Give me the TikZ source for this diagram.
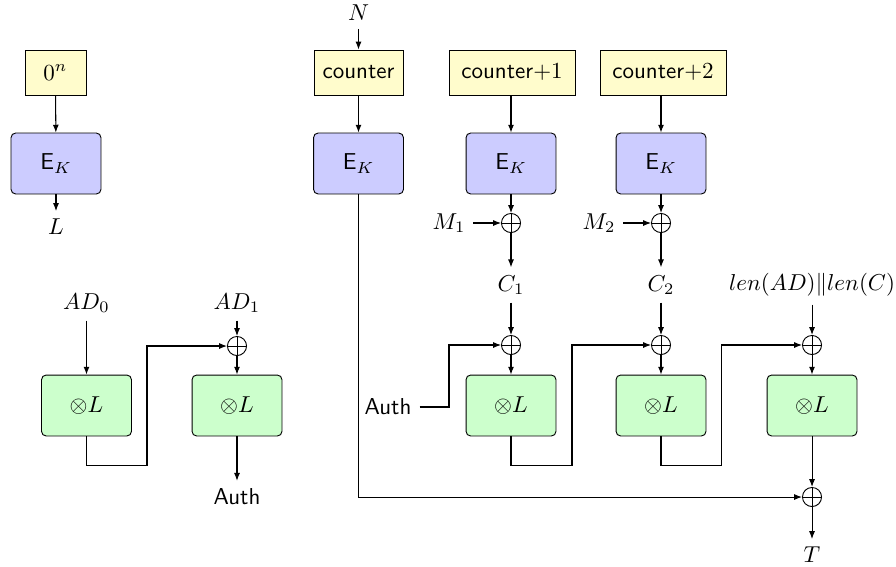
\documentclass[tikz,border=0pt]{standalone}
\usetikzlibrary{arrows.meta}
\begin{document}
\begin{tikzpicture}[x=0.4348pt,y=-0.4348pt]
\tikzset{
  conn/.style={draw=black, line width=0.45pt},
  arr/.style={conn, -{Latex[length=3.4pt,width=2.6pt]}},
  ctrbox/.style={draw, fill=yellow!20, minimum height=19.6pt, inner sep=2pt},
  encbox/.style={draw, fill=blue!20, rounded corners=2pt, minimum width=39.1pt, minimum height=26.5pt},
  mulbox/.style={draw, fill=green!20, rounded corners=2pt, minimum width=39.1pt, minimum height=26.5pt},
  xorop/.style={circle, draw, minimum size=8.3pt, inner sep=0pt,
    path picture={\draw (path picture bounding box.north) -- (path picture bounding box.south)
                        (path picture bounding box.west) -- (path picture bounding box.east);}},
}
\useasboundingbox (0,0) rectangle (896,566);

% key derivation: L = E_K(0^n)
\node[ctrbox, minimum width=26.5pt] (zero) at (55.5,72.5) {$0^n$};
\node[encbox] (ek0) at (56,163.5) {\textsf{E}$_K$};
\node (L) at (56,227) {$L$};
\draw[arr] (zero) -- (ek0);
\draw[arr] (ek0) -- (L);

% associated data chain
\node (ad0) at (86.5,303) {$AD_0$};
\node (ad1) at (237,303) {$AD_1$};
\node[mulbox] (ml0) at (86.5,405.5) {$\otimes L$};
\node[xorop] (xl1) at (237,346) {};
\node[mulbox] (ml1) at (237,405.5) {$\otimes L$};
\node (authout) at (237,497) {\textsf{Auth}};
\coordinate (k0) at (147,465);
\draw[arr] (ad0) -- (ml0);
\draw[arr] (ad1) -- (xl1);
\draw[arr] (xl1) -- (ml1);
\draw[arr] (ml0.south) |- (k0) |- (xl1.west);
\draw[arr] (ml1) -- (authout);

% counter-mode encryption
\node (N) at (358.5,13) {$N$};
\node[ctrbox, minimum width=38.7pt] (ctr0) at (358.5,72.5) {\textsf{counter}};
\node[ctrbox, minimum width=54.8pt] (ctr1) at (512,72.5) {\textsf{counter}$+1$};
\node[ctrbox, minimum width=54.8pt] (ctr2) at (663,72.5) {\textsf{counter}$+2$};
\node[encbox] (ek1) at (358.5,163.5) {\textsf{E}$_K$};
\node[encbox] (ek2) at (511,163.5) {\textsf{E}$_K$};
\node[encbox] (ek3) at (661,163.5) {\textsf{E}$_K$};
\draw[arr] (N) -- (ctr0);
\draw[arr] (ctr0) -- (ek1);
\draw[arr] (ctr1.south -| ek2) -- (ek2);
\draw[arr] (ctr2.south -| ek3) -- (ek3);

\node[xorop] (xm1) at (511,223) {};
\node[xorop] (xm2) at (661,223) {};
\node (m1) at (449,223) {$M_1$};
\node (m2) at (599,223) {$M_2$};
\draw[arr] (ek2) -- (xm1);
\draw[arr] (ek3) -- (xm2);
\draw[arr] (m1) -- (xm1);
\draw[arr] (m2) -- (xm2);
\node (c1) at (511,285) {$C_1$};
\node (c2) at (661,285) {$C_2$};
\node (len) at (812,285) {$len(AD)\|len(C)$};
\draw[arr] (xm1) -- (c1);
\draw[arr] (xm2) -- (c2);

% authentication of the ciphertext
\node[xorop] (xa2) at (511,345) {};
\node[xorop] (xa3) at (661,345) {};
\node[xorop] (xa4) at (812,345) {};
\node[mulbox] (mu2) at (511,405.5) {$\otimes L$};
\node[mulbox] (mu3) at (661,405.5) {$\otimes L$};
\node[mulbox] (mu4) at (812,405.5) {$\otimes L$};
\node (authin) at (388,407) {\textsf{Auth}};
\coordinate (k1) at (449,407);
\coordinate (k2) at (572,465);
\coordinate (k3) at (721,465);
\draw[arr] (c1) -- (xa2);
\draw[arr] (c2) -- (xa3);
\draw[arr] (len) -- (xa4);
\draw[arr] (xa2) -- (mu2);
\draw[arr] (xa3) -- (mu3);
\draw[arr] (xa4) -- (mu4);
\draw[arr] (authin.east) -- (k1) |- (xa2.west);
\draw[arr] (mu2.south) |- (k2) |- (xa3.west);
\draw[arr] (mu3.south) |- (k3) |- (xa4.west);

% tag
\node[xorop] (xt) at (812,497) {};
\node (T) at (812,555) {$T$};
\draw[arr] (mu4) -- (xt);
\draw[arr] (ek1.south) |- (xt.west);
\draw[arr] (xt) -- (T);
\end{tikzpicture}
\end{document}
